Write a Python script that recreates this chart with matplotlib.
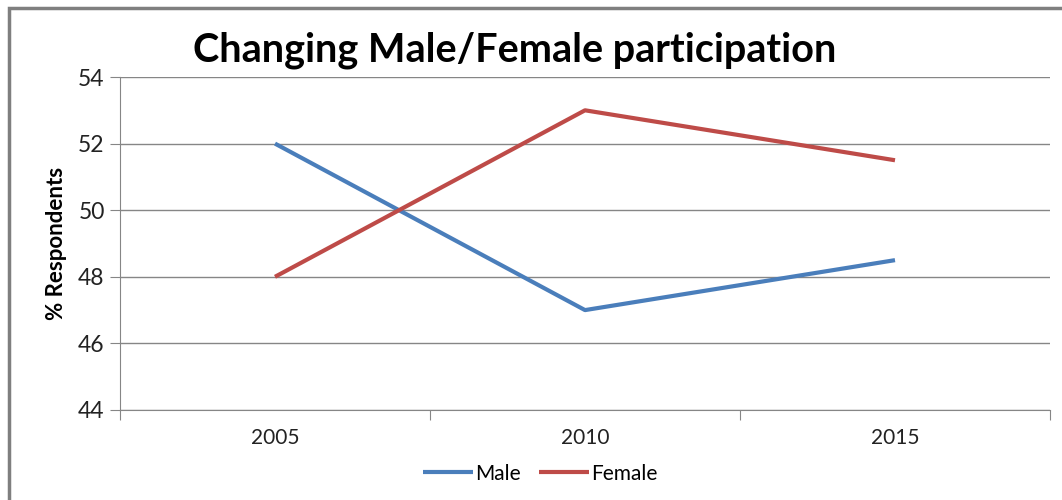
import matplotlib.pyplot as plt
from matplotlib.patches import Rectangle

plt.rcParams['font.family'] = ['Lato', 'DejaVu Sans']

years = ['2005', '2010', '2015']
male = [52, 47, 48.5]
female = [48, 53, 51.5]

blue_male = '#4A7EBB'
red_female = '#BE4B48'
grid_grey = '#868686'

fig = plt.figure(figsize=(10.62, 5), dpi=100)
ax = fig.add_axes([120/1062, 90/500, 930/1062, 333/500])

x = range(len(years))
ax.plot(x, male, color=blue_male, lw=3, label='Male', solid_capstyle='butt')
ax.plot(x, female, color=red_female, lw=3, label='Female', solid_capstyle='butt')

ax.set_xlim(-0.5, 2.5)
ax.set_ylim(44, 54)
ax.set_yticks(range(44, 55, 2))
ax.set_xticks([-0.5, 0.5, 1.5, 2.5])
ax.set_xticklabels([])
ax.set_xticks(list(x), minor=True)
ax.set_xticklabels(years, minor=True)
ax.tick_params(axis='x', which='minor', length=0, pad=13, labelsize=15, labelcolor='#222222')
ax.tick_params(axis='x', which='major', length=7, color=grid_grey, direction='out')
ax.tick_params(axis='y', length=7, color=grid_grey, labelsize=16.5, labelcolor='#222222', pad=4)

ax.grid(axis='y', color=grid_grey, lw=1)
ax.set_axisbelow(True)
for side in ['top', 'right']:
    ax.spines[side].set_visible(False)
for side in ['left', 'bottom']:
    ax.spines[side].set_color(grid_grey)

ax.set_ylabel('% Respondents', fontsize=16, fontweight='bold', labelpad=8)

fig.text(0.485, 0.9, 'Changing Male/Female participation', ha='center', va='center',
         fontsize=28.5, fontweight='bold')

ax.legend(loc='upper center', bbox_to_anchor=(0.452, -0.105), ncol=2, frameon=False,
          fontsize=15, handlelength=2.4, handletextpad=0.1, columnspacing=0.9)

# chart frame (cropped on the right and bottom)
fig.patches.append(Rectangle((9/1062, -0.1), 1.2, (500-8)/500 + 0.1, transform=fig.transFigure,
                             fill=False, edgecolor='#7f7f7f', lw=2.5))

fig.savefig('out.png', dpi=100)
